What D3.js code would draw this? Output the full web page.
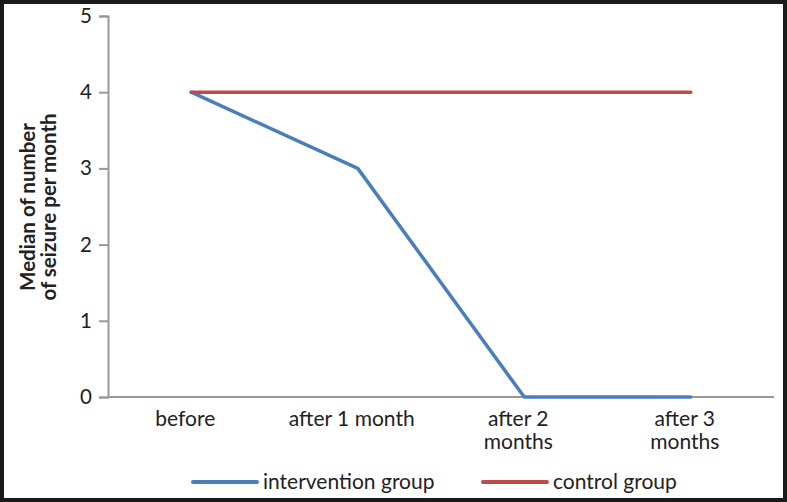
<!DOCTYPE html>
<html>
<head>
<meta charset="utf-8">
<script src="https://cdn.jsdelivr.net/npm/d3@7"></script>
<style>
  body { margin: 0; background: #fff; }
  text { font-family: Lato, 'Open Sans', sans-serif; fill: #222; }
</style>
</head>
<body>
<svg width="787" height="502"></svg>
<script>
// Data

const categories = ['before', 'after 1 month', 'after 2 months', 'after 3 months']
const categoryLines = [['before'], ['after 1 month'], ['after 2', 'months'], ['after 3', 'months']]
const intervention = [4, 3, 0, 0]
const control = [4, 4, 4, 4]
const yTicks = [0, 1, 2, 3, 4, 5]

const seriesNames = ['intervention group', 'control group']
const seriesColors = ['#4a7ebb', '#be4b48']

// Layout

const svg = d3.select('svg')
const plotLeft = 108, plotRight = 774, plotTop = 16, plotBottom = 397

svg.append('rect')
    .attr('x', 2).attr('y', 2)
    .attr('width', 783).attr('height', 498)
    .attr('fill', 'none')
    .attr('stroke', '#1a1a1a')
    .attr('stroke-width', 4)

const x = d3.scaleBand()
    .domain(categories)
    .range([plotLeft, plotRight])

const y = d3.scaleLinear()
    .domain([0, 5])
    .range([plotBottom, plotTop])

// Axes

const yAxis = svg.append('g')
    .attr('transform', `translate(${plotLeft},0)`)
    .call(d3.axisLeft(y).tickValues(yTicks).tickSize(9).tickPadding(7).tickFormat(d3.format('d')))
yAxis.select('.domain').attr('stroke', '#999').attr('stroke-width', 2)
yAxis.selectAll('line').attr('stroke', '#999').attr('stroke-width', 2)
yAxis.selectAll('text').attr('font-size', 20.5).attr('fill', '#222')

svg.append('line')
    .attr('x1', plotLeft).attr('x2', plotRight)
    .attr('y1', y(0)).attr('y2', y(0))
    .attr('stroke', '#999').attr('stroke-width', 2)

const xLabels = svg.append('g')
categoryLines.forEach((lines, i) => {
  const cx = x(categories[i]) + x.bandwidth() / 2 - 6
  const t = xLabels.append('text')
      .attr('text-anchor', 'middle')
      .attr('font-size', 21)
      .attr('x', cx)
      .attr('y', 426)
  lines.forEach((l, j) => {
    t.append('tspan')
        .attr('x', cx)
        .attr('dy', j ? 23 : 0)
        .text(l)
  })
})

// Y title

const title = svg.append('text')
    .attr('transform', `translate(0,${207}) rotate(-90)`)
    .attr('text-anchor', 'middle')
    .attr('font-size', 20.5)
    .attr('font-weight', 'bold')
title.append('tspan').attr('x', 0).attr('y', 35).text('Median of number')
title.append('tspan').attr('x', 0).attr('y', 56).text('of seizure per month')

// Lines

const line = d3.line()
    .x((d, i) => x(categories[i]) + x.bandwidth() / 2)
    .y(d => y(d))

;[intervention, control].forEach((s, i) => {
  svg.append('path')
      .datum(s)
      .attr('fill', 'none')
      .attr('stroke', seriesColors[i])
      .attr('stroke-width', 3.5)
      .attr('stroke-linejoin', 'round')
      .attr('stroke-linecap', 'round')
      .attr('d', line)
})

// Legend

const legendX = [193, 483]
seriesNames.forEach((name, i) => {
  svg.append('line')
      .attr('x1', legendX[i]).attr('x2', legendX[i] + 64)
      .attr('y1', 482).attr('y2', 482)
      .attr('stroke', seriesColors[i])
      .attr('stroke-width', 4)
      .attr('stroke-linecap', 'round')
  svg.append('text')
      .attr('x', legendX[i] + 70)
      .attr('y', 489)
      .attr('font-size', 21)
      .text(name)
})
</script>
</body>
</html>
